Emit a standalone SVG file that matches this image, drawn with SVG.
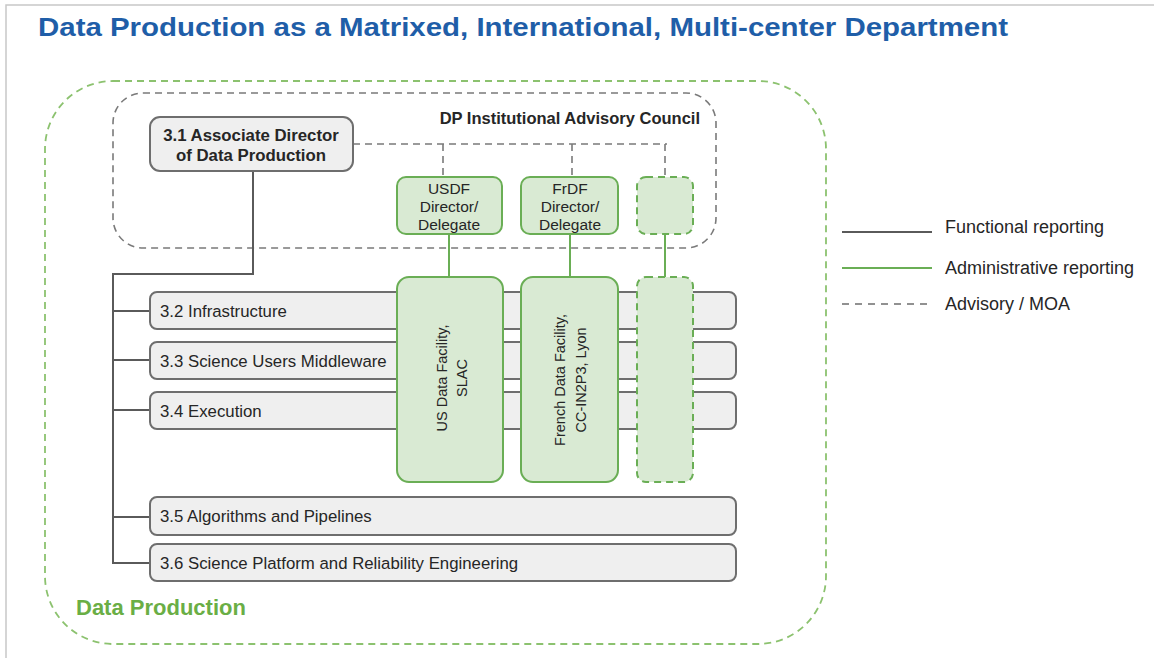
<svg xmlns="http://www.w3.org/2000/svg" width="1154" height="658" viewBox="0 0 1154 658">
<style>
text{font-family:"Liberation Sans",Arial,sans-serif;fill:#262626}
.bar{fill:#efefef;stroke:#6e6e6e;stroke-width:2}
.grn{fill:#d9ead3;stroke:#6aae55;stroke-width:2}
.grnd{fill:#d9ead3;stroke:#6aae55;stroke-width:2;stroke-dasharray:7 5}
.func{fill:none;stroke:#5a5a5a;stroke-width:2}
.adm{fill:none;stroke:#6aae55;stroke-width:2}
.adv{fill:none;stroke:#7a7a7a;stroke-width:1.6;stroke-dasharray:7 5}
.lbl{font-size:16.8px}
.leg{font-size:18px}
.dir{font-size:15.5px}
.b{font-weight:bold}
</style>
<rect width="1154" height="658" fill="#fff"/>
<path d="M6,658 V5 H1154" fill="none" stroke="#c8c8c8" stroke-width="1.5"/>
<text x="38" y="36" font-size="25" font-weight="bold" style="fill:#1f5ea8" textLength="970" lengthAdjust="spacingAndGlyphs">Data Production as a Matrixed, International, Multi-center Department</text>

<g id="dp-frame">
<rect x="45" y="81" width="781" height="563" rx="68" fill="none" stroke="#8cc26f" stroke-width="1.8" stroke-dasharray="7 5"/>
<text x="76" y="615" font-size="22" font-weight="bold" style="fill:#6aae45">Data Production</text>
</g>
<g id="council">
<rect x="113" y="93" width="603" height="155" rx="30" fill="none" stroke="#7a7a7a" stroke-width="1.6" stroke-dasharray="7 5"/>
<text x="700" y="124" font-size="16.5" font-weight="bold" text-anchor="end">DP Institutional Advisory Council</text>
</g>

<g id="connectors">
<path class="adv" d="M353,144 H667 M443,144 V177 M572,144 V177 M665,144 V177"/>
<path class="func" d="M253,171 V274 H113 V563 H150 M113,311 H150 M113,360 H150 M113,410 H150 M113,517 H150"/>
<path class="adm" d="M449,234 V277 M570,234 V277 M665,234 V277"/>
</g>

<g id="n31">
<rect x="150" y="117" width="203" height="54" rx="10" class="bar"/>
<text x="251" y="141" font-size="16.8" class="b" text-anchor="middle">3.1 Associate Director</text>
<text x="251" y="161" font-size="16.8" class="b" text-anchor="middle">of Data Production</text>
</g>

<g id="n32"><rect x="150" y="292" width="586" height="37" rx="7" class="bar"/><text x="160" y="317" class="lbl">3.2 Infrastructure</text></g>
<g id="n33"><rect x="150" y="342" width="586" height="37" rx="7" class="bar"/><text x="160" y="367" class="lbl">3.3 Science Users Middleware</text></g>
<g id="n34"><rect x="150" y="392" width="586" height="37" rx="7" class="bar"/><text x="160" y="417" class="lbl">3.4 Execution</text></g>
<g id="n35"><rect x="150" y="497" width="586" height="38" rx="7" class="bar"/><text x="160" y="522" class="lbl">3.5 Algorithms and Pipelines</text></g>
<g id="n36"><rect x="150" y="544" width="586" height="37" rx="7" class="bar"/><text x="160" y="569" class="lbl">3.6 Science Platform and Reliability Engineering</text></g>

<g id="usdf-dir">
<rect x="397" y="177" width="105" height="57" rx="9" class="grn"/>
<text x="449" y="194" class="dir" text-anchor="middle">USDF</text>
<text x="449" y="212" class="dir" text-anchor="middle">Director/</text>
<text x="449" y="230" class="dir" text-anchor="middle">Delegate</text>
</g>
<g id="frdf-dir">
<rect x="521" y="177" width="97" height="57" rx="9" class="grn"/>
<text x="570" y="194" class="dir" text-anchor="middle">FrDF</text>
<text x="570" y="212" class="dir" text-anchor="middle">Director/</text>
<text x="570" y="230" class="dir" text-anchor="middle">Delegate</text>
</g>
<g id="future-dir"><rect x="637" y="177" width="56" height="57" rx="9" class="grnd"/></g>

<g id="usdf">
<rect x="397" y="277" width="106" height="205" rx="12" class="grn"/>
<text transform="translate(447,378) rotate(-90)" font-size="14.5" text-anchor="middle">US Data Facility,</text>
<text transform="translate(467,378) rotate(-90)" font-size="14.5" text-anchor="middle">SLAC</text>
</g>
<g id="frdf">
<rect x="521" y="277" width="97" height="205" rx="12" class="grn"/>
<text transform="translate(565,380) rotate(-90)" font-size="14.5" text-anchor="middle">French Data Facility,</text>
<text transform="translate(586,380) rotate(-90)" font-size="14.5" text-anchor="middle">CC-IN2P3, Lyon</text>
</g>
<g id="future"><rect x="637" y="277" width="56" height="205" rx="9" class="grnd"/></g>

<g id="legend">
<line x1="842" y1="232" x2="932" y2="232" stroke="#5a5a5a" stroke-width="2"/>
<text x="945" y="233" class="leg">Functional reporting</text>
<line x1="842" y1="268" x2="932" y2="268" stroke="#6aae55" stroke-width="2"/>
<text x="945" y="274" class="leg">Administrative reporting</text>
<line x1="842" y1="304" x2="932" y2="304" stroke="#6e6e6e" stroke-width="1.6" stroke-dasharray="7 6"/>
<text x="945" y="310" class="leg">Advisory / MOA</text>
</g>
</svg>
